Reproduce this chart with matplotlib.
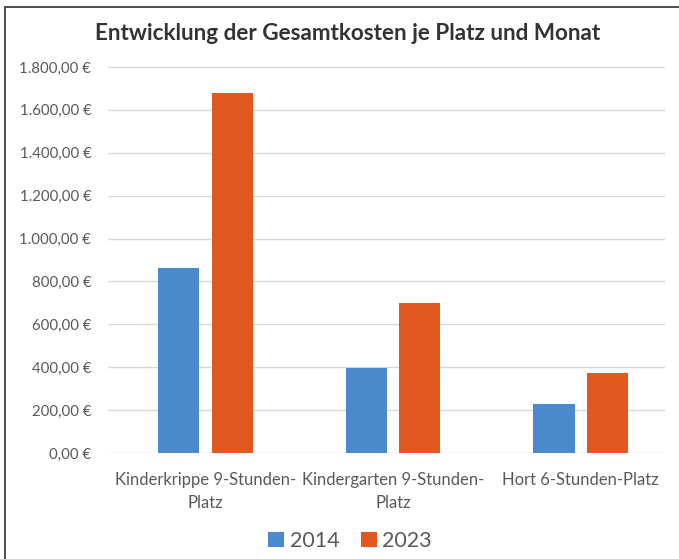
import matplotlib.pyplot as plt
import matplotlib.patches as mpatches
import numpy as np

# Daten
kategorien = ['Kinderkrippe 9-Stunden-\nPlatz', 'Kindergarten 9-Stunden-\nPlatz', 'Hort 6-Stunden-Platz']
werte_2014 = [862, 396, 228]
werte_2023 = [1678, 699, 373]
jahre = ['2014', '2023']

farbe_2014 = '#4A89CC'
farbe_2023 = '#E0581F'
textfarbe = '#595959'

plt.rcParams['font.family'] = ['Lato', 'DejaVu Sans']


def euro(v, pos=None):
    s = '{:,.2f}'.format(v).replace(',', 'X').replace('.', ',').replace('X', '.')
    return s + ' €'


fig = plt.figure(figsize=(6.79, 5.59), dpi=100)
ax = fig.add_axes([108/679, 1 - 453/559, 557/679, 386/559])

x = np.arange(len(kategorien))
breite = 0.22
abstand = 0.065
ax.bar(x - (breite + abstand)/2, werte_2014, breite, color=farbe_2014, label=jahre[0], zorder=3)
ax.bar(x + (breite + abstand)/2, werte_2023, breite, color=farbe_2023, label=jahre[1], zorder=3)

ax.set_xlim(-0.52, 2.45)
ax.set_ylim(0, 1800)
ax.set_yticks(np.arange(0, 1801, 200))
ax.yaxis.set_major_formatter(plt.FuncFormatter(euro))
ax.set_xticks(x)
ax.set_xticklabels(kategorien, linespacing=1.5)

ax.grid(axis='y', color='#D9D9D9', linewidth=1, zorder=0)
for s in ax.spines.values():
    s.set_visible(False)
ax.tick_params(length=0, colors=textfarbe)
ax.tick_params(axis='y', labelsize=10.8, pad=12)
ax.tick_params(axis='x', labelsize=12, pad=14)

fig.text(348/679, 1 - 33/559, 'Entwicklung der Gesamtkosten je Platz und Monat',
         ha='center', va='center', fontsize=16.2, fontweight='bold', color='#333333')

fig.legend(loc='center', bbox_to_anchor=(350/679, 1 - 541/559), ncol=2, frameon=False,
           fontsize=15.5, handlelength=0.75, handleheight=0.75, handletextpad=0.25,
           columnspacing=1.0, labelcolor=textfarbe)

# Rahmen
fig.patches.append(mpatches.Rectangle((5/679, -0.1), 1.2, 1 - 7/559 + 0.1,
                                      transform=fig.transFigure, fill=False,
                                      edgecolor='#303030', linewidth=1.2))

fig.savefig('out.png', dpi=100)
